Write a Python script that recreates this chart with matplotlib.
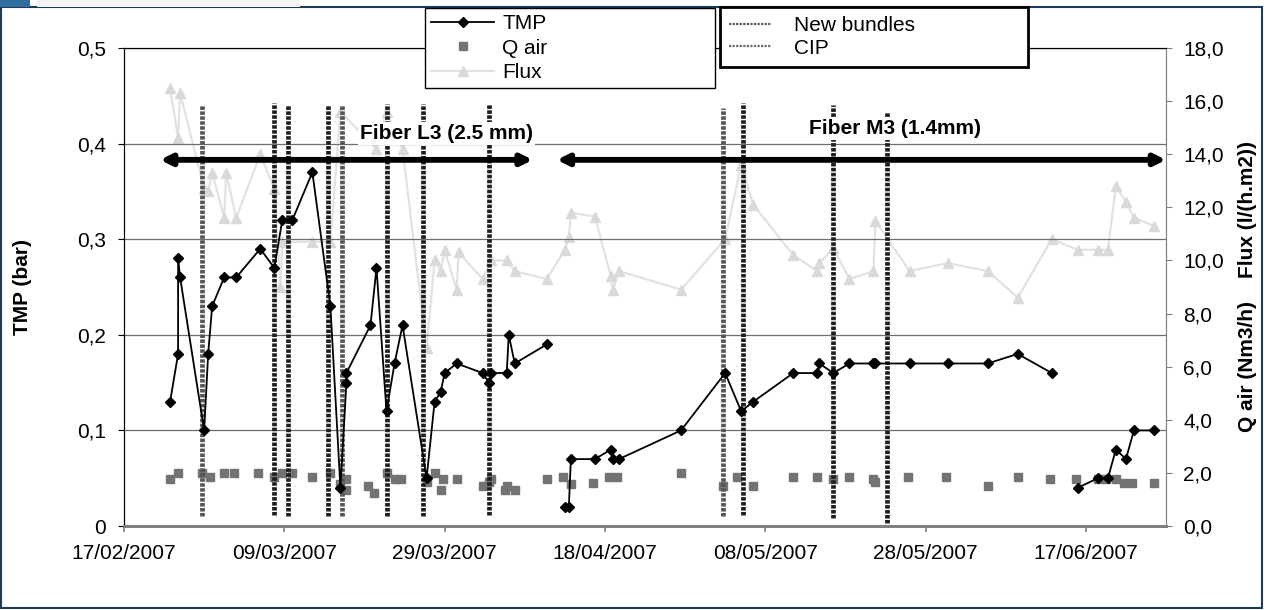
import matplotlib
matplotlib.use("Agg")
import matplotlib.pyplot as plt
import matplotlib.dates as mdates
from matplotlib.lines import Line2D
from matplotlib.patches import Rectangle
from matplotlib.ticker import FixedLocator, FuncFormatter, MultipleLocator
import numpy as np
import pandas as pd

plt.rcParams["font.family"] = ["Liberation Sans", "DejaVu Sans"]

# --- pilot data -------------------------------------------------------------
tmp_time = [
    "2007-02-22 18:00", "2007-02-23 18:00", "2007-02-23 18:00", "2007-02-24 00:00",
    "2007-02-27 00:00", "2007-02-27 12:00", "2007-02-28 00:00", "2007-03-01 12:00",
    "2007-03-03 00:00", "2007-03-06 00:00", "2007-03-07 18:00", "2007-03-08 18:00",
    "2007-03-10 00:00", "2007-03-12 12:00", "2007-03-14 18:00", "2007-03-16 00:00",
    "2007-03-16 18:00", "2007-03-16 18:00", "2007-03-19 18:00", "2007-03-20 12:00",
    "2007-03-21 18:00", "2007-03-22 18:00", "2007-03-23 18:00", "2007-03-26 18:00",
    "2007-03-27 18:00", "2007-03-28 12:00", "2007-03-29 00:00", "2007-03-30 12:00",
    "2007-04-02 18:00", "2007-04-03 12:00", "2007-04-03 18:00", "2007-04-05 18:00",
    "2007-04-06 00:00", "2007-04-06 18:00", "2007-04-10 18:00", "2007-04-12 00:00",
    "2007-04-13 00:00", "2007-04-13 12:00", "2007-04-13 18:00", "2007-04-16 18:00",
    "2007-04-18 18:00", "2007-04-19 00:00", "2007-04-19 18:00", "2007-04-27 12:00",
    "2007-05-03 00:00", "2007-05-05 00:00", "2007-05-06 12:00", "2007-05-11 12:00",
    "2007-05-14 12:00", "2007-05-14 18:00", "2007-05-16 12:00", "2007-05-18 12:00",
    "2007-05-21 12:00", "2007-05-21 18:00", "2007-05-26 00:00", "2007-05-30 18:00",
    "2007-06-04 18:00", "2007-06-08 12:00", "2007-06-12 18:00", "2007-06-14 00:00",
    "2007-06-16 00:00", "2007-06-18 12:00", "2007-06-19 18:00", "2007-06-20 18:00",
    "2007-06-22 00:00", "2007-06-23 00:00", "2007-06-25 12:00",
]
tmp_bar = [
    0.13, 0.18, 0.28, 0.26, 0.10, 0.18, 0.23, 0.26,
    0.26, 0.29, 0.27, 0.32, 0.32, 0.37, 0.23, 0.04,
    0.15, 0.16, 0.21, 0.27, 0.12, 0.17, 0.21, 0.05,
    0.13, 0.14, 0.16, 0.17, 0.16, 0.15, 0.16, 0.16,
    0.20, 0.17, 0.19, np.nan,
    0.02, 0.02, 0.07, 0.07, 0.08, 0.07, 0.07, 0.10,
    0.16, 0.12, 0.13, 0.16, 0.16, 0.17, 0.16, 0.17,
    0.17, 0.17, 0.17, 0.17, 0.17, 0.18, 0.16, np.nan,
    0.04, 0.05, 0.05, 0.08, 0.07, 0.10, 0.10,
]

flux_time = [
    "2007-02-22 18:00", "2007-02-23 18:00", "2007-02-24 00:00", "2007-02-27 00:00",
    "2007-02-27 12:00", "2007-02-28 00:00", "2007-03-01 12:00", "2007-03-01 18:00",
    "2007-03-03 00:00", "2007-03-06 00:00", "2007-03-07 18:00", "2007-03-08 12:00",
    "2007-03-08 18:00", "2007-03-12 12:00", "2007-03-14 18:00", "2007-03-16 00:00",
    "2007-03-20 12:00", "2007-03-21 18:00", "2007-03-23 18:00", "2007-03-26 18:00",
    "2007-03-27 18:00", "2007-03-28 12:00", "2007-03-29 00:00", "2007-03-30 12:00",
    "2007-03-30 18:00", "2007-04-02 18:00", "2007-04-03 18:00", "2007-04-05 18:00",
    "2007-04-06 18:00", "2007-04-10 18:00", "2007-04-13 00:00", "2007-04-13 12:00",
    "2007-04-13 18:00", "2007-04-16 18:00", "2007-04-18 18:00", "2007-04-19 00:00",
    "2007-04-19 18:00", "2007-04-27 12:00", "2007-05-03 00:00", "2007-05-05 00:00",
    "2007-05-06 12:00", "2007-05-11 12:00", "2007-05-14 12:00", "2007-05-14 18:00",
    "2007-05-16 12:00", "2007-05-18 12:00", "2007-05-21 12:00", "2007-05-21 18:00",
    "2007-05-26 00:00", "2007-05-30 18:00", "2007-06-04 18:00", "2007-06-08 12:00",
    "2007-06-12 18:00", "2007-06-16 00:00", "2007-06-18 12:00", "2007-06-19 18:00",
    "2007-06-20 18:00", "2007-06-22 00:00", "2007-06-23 00:00", "2007-06-25 12:00",
]
flux_lmh = [
    16.5, 14.6, 16.3, 12.7, 12.6, 13.3, 11.6, 13.3,
    11.6, 14.0, 12.7, 9.0, 10.7, 10.7, 10.7, 15.6,
    14.2, 15.6, 14.2, 6.7, 10.0, 9.6, 10.4, 8.9,
    10.3, 9.3, 10.0, 10.0, 9.6, 9.3, 10.4, 10.9,
    11.8, 11.65, 9.4, 8.9, 9.6, 8.9, 10.8, 13.6,
    12.1, 10.2, 9.6, 9.9, 10.45, 9.3, 9.6, 11.5,
    9.6, 9.9, 9.6, 8.6, 10.8, 10.4, 10.4, 10.4,
    12.8, 12.2, 11.6, 11.3,
]

qair_time = [
    "2007-02-22 18:00", "2007-02-23 18:00", "2007-02-26 18:00", "2007-02-27 18:00",
    "2007-03-01 12:00", "2007-03-02 18:00", "2007-03-05 18:00", "2007-03-07 18:00",
    "2007-03-08 18:00", "2007-03-10 00:00", "2007-03-12 12:00", "2007-03-14 18:00",
    "2007-03-16 00:00", "2007-03-16 18:00", "2007-03-16 18:00", "2007-03-19 12:00",
    "2007-03-20 06:00", "2007-03-21 18:00", "2007-03-22 18:00", "2007-03-23 12:00",
    "2007-03-26 18:00", "2007-03-27 18:00", "2007-03-28 12:00", "2007-03-28 18:00",
    "2007-03-30 12:00", "2007-04-02 18:00", "2007-04-03 12:00", "2007-04-03 18:00",
    "2007-04-05 12:00", "2007-04-05 18:00", "2007-04-06 18:00", "2007-04-10 18:00",
    "2007-04-12 18:00", "2007-04-13 18:00", "2007-04-16 12:00", "2007-04-18 12:00",
    "2007-04-19 12:00", "2007-04-27 12:00", "2007-05-02 18:00", "2007-05-04 12:00",
    "2007-05-06 12:00", "2007-05-11 12:00", "2007-05-14 12:00", "2007-05-16 12:00",
    "2007-05-18 12:00", "2007-05-21 12:00", "2007-05-21 18:00", "2007-05-25 18:00",
    "2007-05-30 12:00", "2007-06-04 18:00", "2007-06-08 12:00", "2007-06-12 12:00",
    "2007-06-15 18:00", "2007-06-18 12:00", "2007-06-19 12:00", "2007-06-20 18:00",
    "2007-06-21 18:00", "2007-06-22 18:00", "2007-06-25 12:00",
]
qair_nm3h = [
    1.76, 1.98, 1.98, 1.86, 1.98, 1.98, 1.98, 1.86,
    1.98, 1.98, 1.86, 1.98, 1.60, 1.76, 1.36, 1.50,
    1.23, 1.98, 1.76, 1.76, 1.67, 1.98, 1.36, 1.76,
    1.76, 1.50, 1.67, 1.76, 1.36, 1.50, 1.36, 1.76,
    1.86, 1.60, 1.63, 1.86, 1.86, 1.98, 1.50, 1.86,
    1.50, 1.86, 1.86, 1.76, 1.86, 1.76, 1.67, 1.86,
    1.86, 1.50, 1.86, 1.76, 1.76, 1.76, 1.76, 1.76,
    1.63, 1.63, 1.63,
]

# events drawn as vertical bars on the TMP scale
bundle_time = ["2007-02-26 18:00", "2007-03-16 06:00", "2007-05-02 18:00"]
bundle_low = [0.010, 0.010, 0.010]
bundle_high = [0.440, 0.440, 0.437]
cip_time = [
    "2007-03-07 18:00", "2007-03-09 12:00", "2007-03-14 12:00", "2007-03-21 18:00",
    "2007-03-26 06:00", "2007-04-03 12:00", "2007-05-05 06:00", "2007-05-16 12:00",
    "2007-05-23 06:00",
]
cip_low = [0.012, 0.010, 0.010, 0.010, 0.010, 0.012, 0.012, 0.008, 0.003]
cip_high = [0.442, 0.440, 0.440, 0.441, 0.441, 0.441, 0.442, 0.440, 0.433]

# membrane periods
fibers = ["Fiber L3 (2.5 mm)", "Fiber M3 (1.4mm)"]
fiber_start = ["2007-02-21 12:00", "2007-04-12 00:00"]
fiber_end = ["2007-04-09 00:00", "2007-06-27 00:00"]
fiber_label_at = ["2007-03-29 06:00", "2007-05-24 06:00"]

date_ticks = ["17/02/2007", "09/03/2007", "29/03/2007", "18/04/2007",
              "08/05/2007", "28/05/2007", "17/06/2007"]

C_QAIR = "#737373"
C_FLUX_LINE = "#e2e2e2"
C_FLUX_MARK = "#d9d9d9"
C_BUNDLE = "#555555"
C_CIP = "#1e1e1e"
BEADS = (0, (0.75, 0.3))


def dec_comma(fmt, zero=None):
    def f(v, _):
        if zero is not None and abs(v) < 1e-9:
            return zero
        return format(v, fmt).replace(".", ",")
    return FuncFormatter(f)


fig = plt.figure(figsize=(12.7, 6.1), dpi=100)
ax = fig.add_axes([124 / 1270, 84 / 610, 1042 / 1270, 478 / 610])
ax2 = ax.twinx()
ax.set_zorder(ax2.get_zorder() + 1)
ax.patch.set_visible(False)

t_tmp = pd.to_datetime(tmp_time)
t_flux = pd.to_datetime(flux_time)
t_qair = pd.to_datetime(qair_time)

# right axis: flux and air flow
ax2.plot(t_flux, flux_lmh, color=C_FLUX_LINE, lw=1.6, marker="^", ms=7,
         mfc=C_FLUX_MARK, mec=C_FLUX_MARK, zorder=2)
ax2.plot(t_qair, qair_nm3h, ls="none", marker="s", ms=5.5, mfc=C_QAIR,
         mec=C_QAIR, zorder=3)

# left axis: events, TMP, arrows
ax.vlines(pd.to_datetime(bundle_time), bundle_low, bundle_high, colors=C_BUNDLE,
          lw=3.4, linestyles=[BEADS], zorder=3)
ax.vlines(pd.to_datetime(cip_time), cip_low, cip_high, colors=C_CIP,
          lw=3.4, linestyles=[BEADS], zorder=3)
ax.plot(t_tmp, tmp_bar, color="black", lw=1.3, marker="D", ms=5.5, zorder=4)

for t0, t1 in zip(fiber_start, fiber_end):
    x0 = mdates.date2num(pd.Timestamp(t0))
    x1 = mdates.date2num(pd.Timestamp(t1))
    ax.annotate("", xy=(x1, 0.383), xytext=(x0, 0.383),
                arrowprops=dict(arrowstyle="<|-|>", lw=4.2, color="black",
                                mutation_scale=16, shrinkA=0, shrinkB=0),
                zorder=5)
for name, tl, yl in zip(fibers, fiber_label_at, (0.411, 0.416)):
    ax.text(mdates.date2num(pd.Timestamp(tl)), yl, name, ha="center",
            va="center", fontsize=15, fontweight="bold", zorder=6,
            bbox=dict(fc="white", ec="none", pad=1.5))

# scales
ax.set_xlim(pd.Timestamp("2007-02-17"), pd.Timestamp("2007-06-27"))
ax.set_ylim(0, 0.5)
ax2.set_ylim(0, 18)
ax.xaxis.set_major_locator(FixedLocator(
    mdates.date2num(pd.to_datetime(date_ticks, format="%d/%m/%Y"))))
ax.xaxis.set_major_formatter(mdates.DateFormatter("%d/%m/%Y"))
ax.yaxis.set_major_locator(MultipleLocator(0.1))
ax.yaxis.set_major_formatter(dec_comma(".1f", zero="0"))
ax2.yaxis.set_major_locator(MultipleLocator(2))
ax2.yaxis.set_major_formatter(dec_comma(".1f"))

ax.grid(axis="y", color="#6e6e6e", lw=0.9)
ax.set_axisbelow(True)
ax.tick_params(axis="both", labelsize=15, direction="out", length=4.5, pad=8.5)
ax.tick_params(axis="x", color="#808080", width=1.2)
ax2.tick_params(axis="y", labelsize=15, direction="out", length=4, pad=8.5,
                color="#808080")

for a in (ax, ax2):
    a.spines["left"].set_color("black")
    a.spines["top"].set_color("black")
    a.spines["right"].set_color("#808080")
    a.spines["bottom"].set_color("#808080")
    a.spines["bottom"].set_linewidth(2)

ax.set_ylabel("TMP (bar)", fontsize=15, fontweight="bold", labelpad=32)
ax2.set_ylabel("Q air (Nm3/h)    Flux (l/(h.m2))", fontsize=15,
               fontweight="bold", labelpad=10)

# legends
series_handles = [
    Line2D([], [], color="black", lw=1.3, marker="D", ms=5.5),
    Line2D([], [], ls="none", marker="s", ms=5.5, mfc=C_QAIR, mec=C_QAIR),
    Line2D([], [], color=C_FLUX_LINE, lw=1.6, marker="^", ms=7,
           mfc=C_FLUX_MARK, mec=C_FLUX_MARK),
]
leg1 = fig.legend(series_handles, ["TMP", "Q air", "Flux"], loc="upper left",
                  bbox_to_anchor=(425 / 1270, 520 / 610, 290 / 1270, 82 / 610),
                  mode="expand", fontsize=15, borderpad=0.3, labelspacing=0.26,
                  handlelength=3.0, handletextpad=0.4, borderaxespad=0,
                  fancybox=False, framealpha=1, edgecolor="black")
leg1.get_frame().set_linewidth(1)

event_handles = [
    Line2D([], [], color="#555555", lw=1.6, ls=(0, (1, 0.6))),
    Line2D([], [], color="#6a6a6a", lw=1.6, ls=(0, (1, 0.6))),
]
leg2 = fig.legend(event_handles, ["New bundles", "CIP"], loc="upper left",
                  bbox_to_anchor=(720 / 1270, 542 / 610, 308 / 1270, 61 / 610),
                  mode="expand", fontsize=15, borderpad=0.45, labelspacing=0.15,
                  handlelength=2.0, handletextpad=1.1, borderaxespad=0,
                  fancybox=False, framealpha=1, edgecolor="black")
leg2.get_frame().set_linewidth(2)

# chart frame and page header strip
fig.patches.append(Rectangle((1 / 1270, 2 / 610), 1261 / 1270, 601 / 610,
                             transform=fig.transFigure, fill=False,
                             ec="#1d3a5c", lw=1.5, zorder=0))
fig.patches.append(Rectangle((0, 603 / 610), 30 / 1270, 7 / 610,
                             transform=fig.transFigure, fc="#2f6e9f", ec="none"))
fig.patches.append(Rectangle((37 / 1270, 603 / 610), 263 / 1270, 7 / 610,
                             transform=fig.transFigure, fc="#f3f3f3", ec="none"))

fig.savefig("out.png", dpi=100)
